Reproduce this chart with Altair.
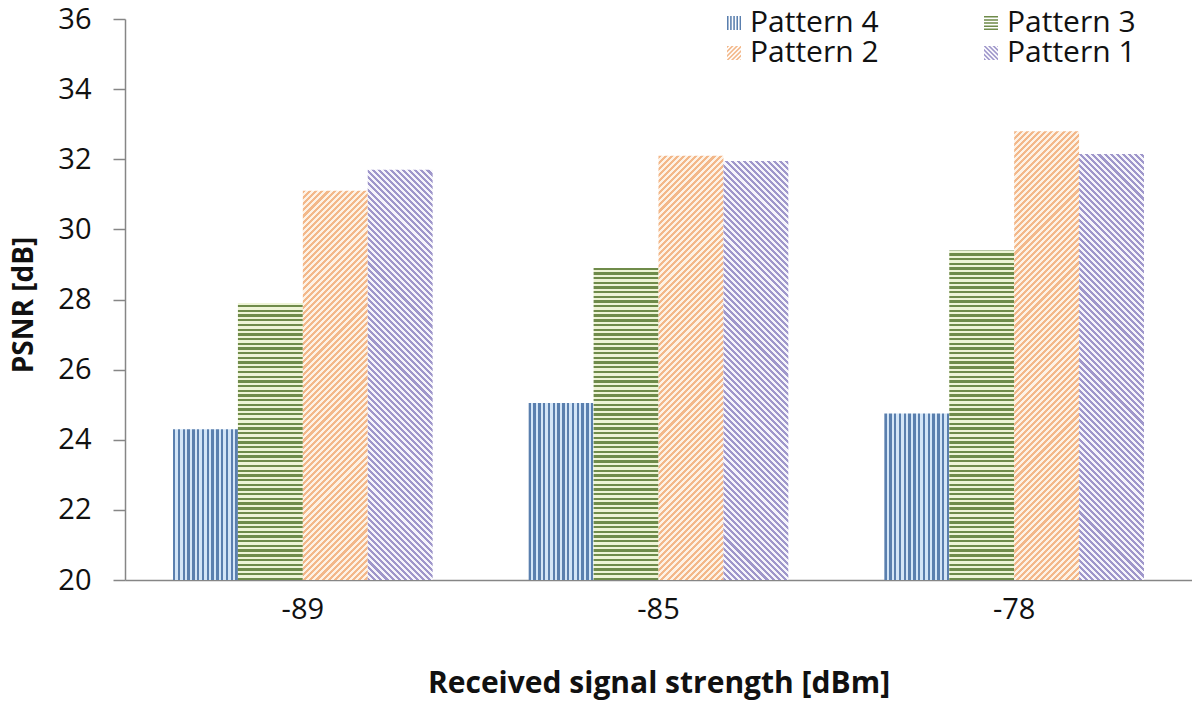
import math
import altair as alt
import pandas as pd

# ---- data ----
categories = ["-89", "-85", "-78"]
patterns = ["Pattern 4", "Pattern 3", "Pattern 2", "Pattern 1"]
pattern4 = [24.3, 25.05, 24.75]
pattern3 = [27.9, 28.9, 29.4]
pattern2 = [31.1, 32.1, 32.8]
pattern1 = [31.7, 31.95, 32.15]
y_ticks = [20, 22, 24, 26, 28, 30, 32, 34, 36]
# legend entries are laid out column by column, so this order gives rows
# "Pattern 4, Pattern 3" and "Pattern 2, Pattern 1"
legend_order = ["Pattern 4", "Pattern 2", "Pattern 3", "Pattern 1"]

series = {"Pattern 4": pattern4, "Pattern 3": pattern3,
          "Pattern 2": pattern2, "Pattern 1": pattern1}
rows = []
for p in patterns:
    for c, v in zip(categories, series[p]):
        rows.append({"rss": c, "pattern": p, "psnr": v})
df = pd.DataFrame(rows)

# ---- layout / style ----
W, H = 1067, 561
YMIN, YMAX = 20, 36
PAD_IN, PAD_OUT = 0.27, 0.135
FONT = "Open Sans"
TXT = "#111111"
AXC = "#868686"

styles = {
    "Pattern 4": dict(kind="v", dark="#5a7fae", light="#d3e5f7", period=4.8),
    "Pattern 3": dict(kind="h", dark="#6f8b4a", light="#eef4d6", period=4.7),
    "Pattern 2": dict(kind="up", dark="#f3b88a", light="#fdf2e6", period=4.3),
    "Pattern 1": dict(kind="down", dark="#9f97cb", light="#f6f5fb", period=4.3),
}

step = W / (len(categories) - PAD_IN + 2 * PAD_OUT)
bar_w = step * (1 - PAD_IN) / len(patterns)


def stripe_stops(n, dark, light, duty=0.5):
    out = []
    k = 0
    while k < n:
        a = min(k / n, 1.0)
        b = min((k + duty) / n, 1.0)
        c = min((k + 1) / n, 1.0)
        out += [alt.GradientStop(offset=a, color=dark),
                alt.GradientStop(offset=b, color=dark),
                alt.GradientStop(offset=b, color=light),
                alt.GradientStop(offset=c, color=light)]
        k += 1
    return out


def make_gradient(pat, value):
    st = styles[pat]
    w = bar_w
    h = (value - YMIN) / (YMAX - YMIN) * H
    if st["kind"] == "v":
        n = w / st["period"]
        return alt.Gradient(gradient="linear", x1=0, y1=0, x2=1, y2=0,
                            stops=stripe_stops(n, st["dark"], st["light"]))
    if st["kind"] == "h":
        n = h / st["period"]
        return alt.Gradient(gradient="linear", x1=0, y1=1, x2=0, y2=0,
                            stops=stripe_stops(n, st["dark"], st["light"]))
    t = (w + h) / (w * w + h * h)
    n = (w + h) / math.sqrt(2) / st["period"]
    if st["kind"] == "up":
        return alt.Gradient(gradient="linear", x1=0, y1=0, x2=t * w, y2=t * h,
                            stops=stripe_stops(n, st["dark"], st["light"]))
    return alt.Gradient(gradient="linear", x1=0, y1=1, x2=t * w, y2=1 - t * h,
                        stops=stripe_stops(n, st["dark"], st["light"]))


# ---- legend symbol paths (stripes in the unit square) ----
def clip(pts, a, b, c):
    out = []
    n = len(pts)
    for i in range(n):
        P, Q = pts[i], pts[(i + 1) % n]
        fp = a * P[0] + b * P[1] - c
        fq = a * Q[0] + b * Q[1] - c
        if fp <= 0:
            out.append(P)
        if (fp < 0 < fq) or (fq < 0 < fp):
            t = fp / (fp - fq)
            out.append((P[0] + t * (Q[0] - P[0]), P[1] + t * (Q[1] - P[1])))
    return out


def poly_path(pts):
    pts = clip(pts, 1, 0, 1)
    pts = clip(pts, -1, 0, 1)
    pts = clip(pts, 0, 1, 1)
    pts = clip(pts, 0, -1, 1)
    if len(pts) < 3:
        return ""
    return "M" + " L".join(f"{x:.3f},{y:.3f}" for x, y in pts) + " Z"


def symbol_path(kind):
    parts = []
    if kind in ("v", "h"):
        for k in range(5):
            s0 = -1 + k * 0.45
            s1 = min(s0 + 0.22, 1)
            if kind == "v":
                parts.append(poly_path([(s0, -1), (s1, -1), (s1, 1), (s0, 1)]))
            else:
                parts.append(poly_path([(-1, s0), (1, s0), (1, s1), (-1, s1)]))
    else:
        c = -2.0
        while c < 2.0:
            d = 0.32
            if kind == "up":   # lines x + y = const
                pts = [(-3, c + 3), (3, c - 3), (3, c + d - 3), (-3, c + d + 3)]
            else:              # lines x - y = const
                pts = [(-3, -3 - c), (3, 3 - c), (3, 3 - c - d), (-3, -3 - c - d)]
            parts.append(poly_path(pts))
            c += 0.64
    return " ".join(p for p in parts if p)


legend_paths = [symbol_path(styles[p]["kind"]) for p in legend_order]
legend_colors = [styles[p]["dark"] for p in legend_order]

legend = alt.Legend(
    title=None, orient="none", legendX=594, legendY=-11, columns=2,
    symbolSize=196, symbolOpacity=1, symbolStrokeWidth=0,
    labelFont=FONT, labelFontSize=30, labelColor=TXT, labelOffset=1,
    columnPadding=97, rowPadding=0, padding=0,
)

base = alt.Chart(df).encode(
    x=alt.X("rss:N",
            scale=alt.Scale(domain=categories, paddingInner=PAD_IN, paddingOuter=PAD_OUT),
            axis=alt.Axis(title="Received signal strength [dBm]", labelAngle=0,
                          ticks=False, domainColor=AXC, domainWidth=1.5,
                          labelFont=FONT, labelFontSize=29, labelColor=TXT,
                          labelPadding=15, titleFont=FONT, titleFontSize=30,
                          titleFontWeight="bold", titleColor=TXT,
                          titleY=103, titleBaseline="middle")),
    xOffset=alt.XOffset("pattern:N",
                        scale=alt.Scale(domain=patterns, paddingInner=0, paddingOuter=0)),
    y=alt.Y("psnr:Q",
            scale=alt.Scale(domain=[YMIN, YMAX], nice=False, zero=False),
            axis=alt.Axis(title="PSNR [dB]", values=y_ticks, grid=False,
                          tickSize=12, tickColor=AXC, tickWidth=1.5,
                          domainColor=AXC, domainWidth=1.5,
                          labelFont=FONT, labelFontSize=29, labelColor=TXT,
                          labelPadding=22, titleFont=FONT, titleFontSize=28,
                          titleFontWeight="bold", titleColor=TXT,
                          titleX=-101, titleY=H / 2 + 5, titleBaseline="middle")),
)

layers = []
for p in patterns:
    for c, v in zip(categories, series[p]):
        layers.append(
            base.transform_filter((alt.datum.rss == c) & (alt.datum.pattern == p))
            .mark_bar(fill=make_gradient(p, v), strokeWidth=0)
            .encode(y2=alt.datum(YMIN))
        )

legend_layer = base.mark_point(filled=True, opacity=0).encode(
    color=alt.Color("pattern:N", scale=alt.Scale(domain=legend_order, range=legend_colors),
                    legend=legend),
    shape=alt.Shape("pattern:N", scale=alt.Scale(domain=legend_order, range=legend_paths),
                    legend=legend),
)

chart = alt.layer(*layers, legend_layer).properties(
    width=W, height=H,
    padding={"left": 117, "top": 11, "right": 0, "bottom": 120},
    autosize=alt.AutoSizeParams(type="none"),
    background="white",
).configure_view(stroke=None)

chart.save("out.html", embed_options={"renderer": "svg", "actions": False})
